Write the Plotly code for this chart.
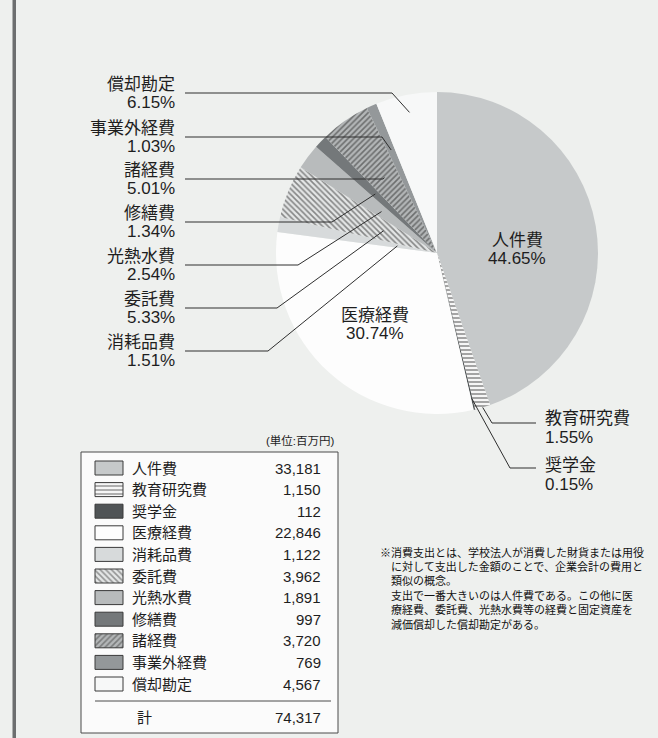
import math
import plotly.graph_objects as go

# ---- data -------------------------------------------------------------
categories = ["人件費", "教育研究費", "奨学金", "医療経費", "消耗品費", "委託費",
              "光熱水費", "修繕費", "諸経費", "事業外経費", "償却勘定"]
amounts = [33181, 1150, 112, 22846, 1122, 3962, 1891, 997, 3720, 769, 4567]
unit_label = "(単位:百万円)"
total_label = "計"
note_lines = [
    "※消費支出とは、学校法人が消費した財貨または用役",
    "に対して支出した金額のことで、企業会計の費用と",
    "類似の概念。",
    "支出で一番大きいのは人件費である。この他に医",
    "療経費、委託費、光熱水費等の経費と固定資産を",
    "減価償却した償却勘定がある。",
]

# ---- styling ----------------------------------------------------------
W, H = 658, 738
CX, CY, R = 437, 253, 161          # pie centre / radius in pixels
BG = "#eef0ee"
INK = "#1e1e1e"
FONT = "Liberation Sans, Noto Sans CJK JP, sans-serif"

fill_colors = ["#c6c9ca", "#f6f6f6", "#505456", "#fdfdfd", "#d7dadb", "#e4e6e6",
               "#b8bbbc", "#74787a", "#b3b6b7", "#94989a", "#f7f8f8"]
hatch = ["", "-", "", "", "", "\\", "", "", "/", "", ""]

total = sum(amounts)
pcts = [a / total * 100 for a in amounts]

# mid angle of each slice, clockwise from 12 o'clock (degrees)
mid_deg = []
acc = 0.0
for a in amounts:
    mid_deg.append((acc + a / 2) / total * 360)
    acc += a


def slice_point(i, frac):
    t = math.radians(mid_deg[i])
    return CX + frac * R * math.sin(t), CY - frac * R * math.cos(t)


fig = go.Figure()

fig.add_trace(go.Pie(
    values=amounts, labels=categories, sort=False, direction="clockwise",
    rotation=0, textinfo="none", hoverinfo="label+value+percent",
    showlegend=False,
    marker=dict(colors=fill_colors, line=dict(width=0),
                pattern=dict(shape=hatch, fillmode="overlay", fgcolor="#262626",
                             size=4, solidity=0.4)),
    domain=dict(x=[(CX - R) / W, (CX + R) / W],
                y=[1 - (CY + R) / H, 1 - (CY - R) / H]),
))

# ---- legend table swatches (bars on a pixel-scaled axis) --------------
row_y0, row_dy = 468, 21.6
rows_y = [row_y0 + row_dy * i for i in range(len(categories))]
fig.add_trace(go.Bar(
    orientation="h", y=rows_y, x=[28] * len(categories), base=[95] * len(categories),
    width=14, hoverinfo="skip", showlegend=False,
    marker=dict(color=fill_colors, line=dict(color="#3a3a3a", width=1),
                pattern=dict(shape=hatch, fillmode="overlay", fgcolor="#262626",
                             size=4, solidity=0.4)),
))

shapes = []
annotations = []


def text(x, y, s, size, anchor="left", color=INK):
    annotations.append(dict(x=x, y=y, xref="x", yref="y", text=s, showarrow=False,
                            xanchor=anchor, yanchor="middle",
                            font=dict(family=FONT, size=size, color=color)))


# page edge rule
shapes.append(dict(type="rect", xref="x", yref="y", x0=12.5, x1=16, y0=0, y1=H,
                   fillcolor="#6c6e6f", line=dict(width=0), layer="below"))

# legend box
shapes.append(dict(type="rect", xref="x", yref="y", x0=81, x1=338, y0=452, y1=733,
                   fillcolor="#fbfbfb", line=dict(color="#4a4a4a", width=1),
                   layer="below"))
shapes.append(dict(type="line", xref="x", yref="y", x0=95, x1=331, y0=701, y1=701,
                   line=dict(color="#4a4a4a", width=1)))
text(337, 440, unit_label, 11.5, anchor="right")
for name, amt, y in zip(categories, amounts, rows_y):
    text(130, y, name, 15)
    text(323, y, f"{amt:,}", 15, anchor="right")
text(135, 717, total_label, 15)
text(323, 717, f"{total:,}", 15, anchor="right")

# footnote
for k, line in enumerate(note_lines):
    text(378 if k == 0 else 389, 552 + 14.4 * k, line, 11, color="#111111")

# ---- slice labels -----------------------------------------------------
LBL = 17
# inside labels
for i, (x, y) in {0: (517, 240), 3: (375, 315)}.items():
    text(x, y, categories[i], LBL, anchor="center")
    text(x, y + 18, f"{pcts[i]:.2f}%", LBL, anchor="center")

# left-hand labels: (slice index, leader y, knee x, depth into slice)
left = [(10, 93, 392, 0.89), (9, 137, 382, 0.70), (8, 179, 383, 0.57),
        (7, 222, 332, 0.53), (6, 265, 298, 0.43), (5, 308, 277, 0.36),
        (4, 351, 268, 0.25)]
for i, ly, kx, f in left:
    ex, ey = slice_point(i, f)
    shapes.append(dict(type="path", xref="x", yref="y",
                       path=f"M185,{ly} L{kx},{ly} L{ex:.1f},{ey:.1f}",
                       line=dict(color="#2e2e2e", width=1)))
    text(177, ly - 9, categories[i], LBL, anchor="right")
    text(177, ly + 9, f"{pcts[i]:.2f}%", LBL, anchor="right")

# right-hand labels: (slice index, leader y, knee x, depth, name y)
right = [(1, 423, 492, 1.0, 418), (2, 468, 510, 0.93, 465)]
for i, ly, kx, f, ny in right:
    ex, ey = slice_point(i, f)
    shapes.append(dict(type="path", xref="x", yref="y",
                       path=f"M{ex:.1f},{ey:.1f} L{kx},{ly} L536,{ly}",
                       line=dict(color="#2e2e2e", width=1)))
    text(543, ny, categories[i], LBL)
    text(543, ny + 19, f"{pcts[i]:.2f}%", LBL)

fig.update_layout(
    width=W, height=H, margin=dict(l=0, r=0, t=0, b=0),
    paper_bgcolor=BG, plot_bgcolor=BG,
    xaxis=dict(range=[0, W], domain=[0, 1], visible=False, fixedrange=True),
    yaxis=dict(range=[H, 0], domain=[0, 1], visible=False, fixedrange=True),
    shapes=shapes, annotations=annotations, showlegend=False,
)

fig.write_html("out.html")
